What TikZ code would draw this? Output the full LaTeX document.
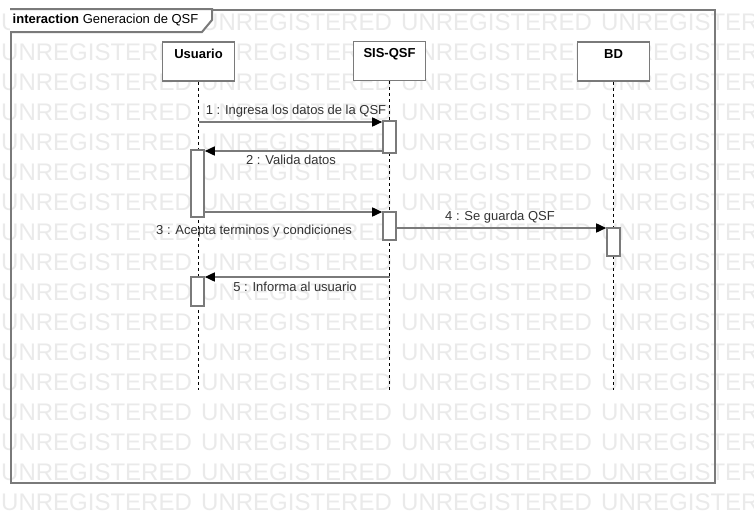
\documentclass[tikz,border=0pt]{standalone}
\usepackage{fontspec}
\setmainfont{Liberation Sans}
\usetikzlibrary{arrows.meta}
\definecolor{linegray}{RGB}{122,122,122}
\definecolor{wmgray}{RGB}{234,234,234}
\definecolor{txtgray}{RGB}{51,51,51}
\tikzset{
  wm/.style={anchor=base west, inner sep=0pt, text=wmgray, font=\fontsize{24}{24}\selectfont},
  framebox/.style={draw=linegray, line width=2pt},
  actor/.style={draw=linegray, line width=1.6pt, fill=white, minimum width=72pt, minimum height=39pt, inner sep=0pt},
  aname/.style={anchor=north, inner sep=0pt, font=\fontsize{13}{13}\selectfont\bfseries, text=black},
  life/.style={draw=black, line width=0.9pt, dash pattern=on 3pt off 3pt},
  actbar/.style={draw=linegray, line width=1.6pt, fill=white, minimum width=13pt, inner sep=0pt},
  msg/.style={draw=linegray, line width=1.6pt, -{Triangle[length=10pt,width=9pt,black]}},
  mlabel/.style={inner sep=0pt, font=\fontsize{13}{13}\selectfont, text=txtgray},
}
\begin{document}
\begin{tikzpicture}[x=1pt,y=-1pt]
\useasboundingbox (0,0) rectangle (754,522);
\fill[white] (0,0) rectangle (754,522);
% watermark
\begin{scope}
\clip (0,0) rectangle (754,522);
\foreach \r in {0,...,16}{
  \foreach \c in {0,...,3}{
    \node[wm] (wm-\r-\c) at ({1+200*\c},{30+30*\r}) {UNREGISTERED};
  }
}
\end{scope}
% frame
\node[framebox, anchor=north west, minimum width=704pt, minimum height=473pt, inner sep=0pt] (frame) at (10,9) {};
\draw[framebox, fill=white] (10,9) -- (212,9) -- (212,20) -- (202,32) -- (10,32);
\node[anchor=west, inner sep=0pt, font=\fontsize{13}{13}\selectfont, text=black] (title) at (12.5,20.5) {\textbf{interaction} Generacion de QSF};
% actors
\node[actor] (usr) at (198.5,61.5) {};
\node[actor] (sis) at (389.5,61) {};
\node[actor] (bd) at (613.5,61.5) {};
\node[aname] (usrT) at ([yshift=-8pt]usr.north) {Usuario};
\node[aname] (sisT) at ([yshift=-8pt]sis.north) {SIS-QSF};
\node[aname] (bdT) at ([yshift=-8pt]bd.north) {BD};
% lifelines
\coordinate (usrE) at (198.5,390);
\coordinate (sisE) at (389.5,390);
\coordinate (bdE) at (613.5,390);
\draw[life] (usr.south) -- (usrE);
\draw[life] (sis.south) -- (sisE);
\draw[life] (bd.south) -- (bdE);
% activations
\node[actbar, minimum height=67pt] (ua1) at (197.5,183.5) {};
\node[actbar, minimum height=29pt] (ua2) at (197.5,291.5) {};
\node[actbar, minimum height=32pt] (sa1) at (389.5,137) {};
\node[actbar, minimum height=28pt] (sa2) at (389.5,226) {};
\node[actbar, minimum height=28pt] (ba1) at (613.5,242) {};
% messages
\draw[msg] (usr.south |- 0,122) -- (sa1.west |- 0,122);
\draw[msg] (sa1.west |- 0,151) -- (ua1.east |- 0,151);
\draw[msg] (ua1.east |- 0,212) -- (sa2.west |- 0,212);
\draw[msg] (sa2.east |- 0,228) -- (ba1.west |- 0,228);
\draw[msg] (sis.south |- 0,277) -- (ua2.east |- 0,277);
% labels
\node[mlabel] (m1) at (296,111) {1 : Ingresa los datos de la QSF};
\node[mlabel] (m2) at (291,160) {2 : Valida datos};
\node[mlabel] (m3) at (254,231) {3 : Acepta terminos y condiciones};
\node[mlabel] (m4) at (500,217) {4 : Se guarda QSF};
\node[mlabel] (m5) at (295,287) {5 : Informa al usuario};
\end{tikzpicture}
\end{document}
